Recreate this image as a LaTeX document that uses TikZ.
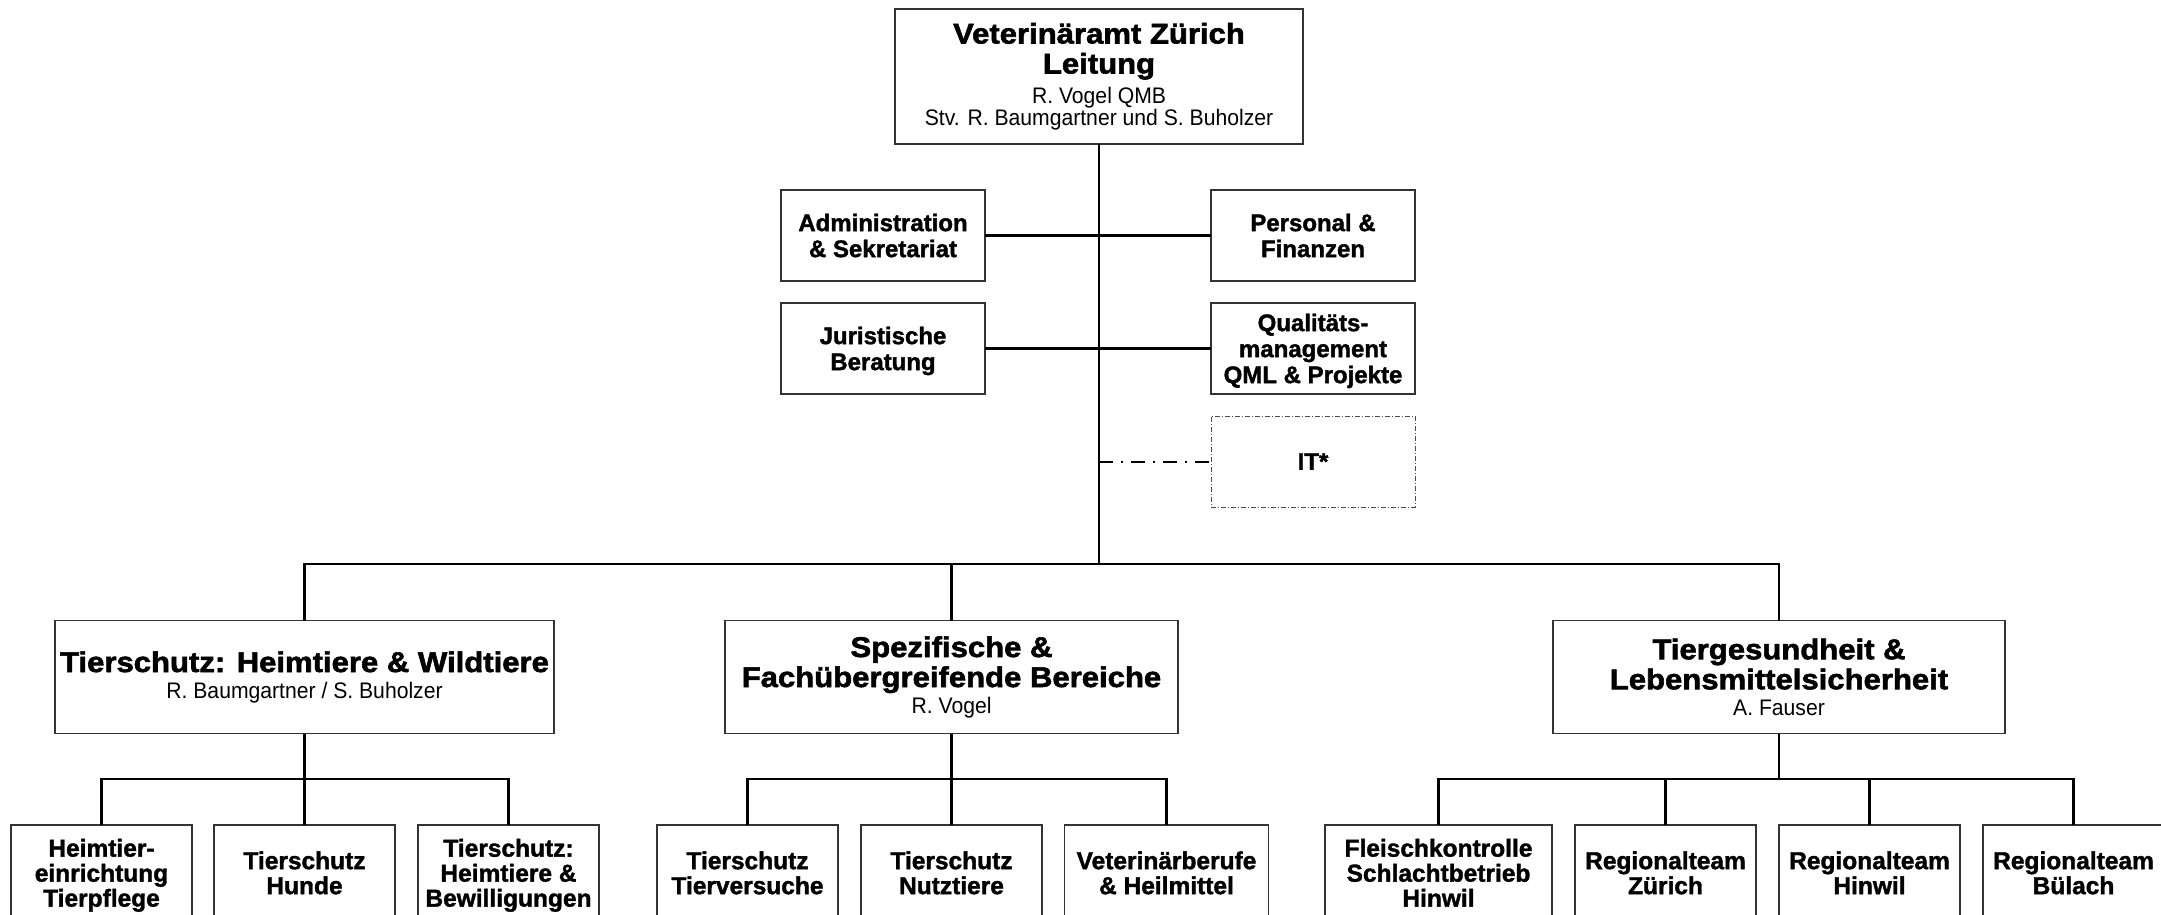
\documentclass[tikz,border=0pt]{standalone}
\usepackage{fontspec}
\setmainfont{Liberation Sans}
\newfontfamily\titelschrift{Liberation Sans}[FakeStretch=1.09,FakeBold=2]
\newfontfamily\einheitschrift{Liberation Sans}[FakeBold=1.5]
\newfontfamily\namenschrift{Liberation Sans}[FakeStretch=0.94]
\newcommand{\namen}{\namenschrift\mdseries\fontsize{22.5}{23}\selectfont}
\newcommand{\hoch}{\rule{0pt}{25pt}}

\tikzset{
	kasten/.style={draw=black!80, line width=1.3pt, fill=white, inner sep=0pt, outer sep=0pt, align=center},
	leitung/.style={kasten, minimum width=408pt, minimum height=135pt, font=\titelschrift\bfseries\fontsize{28.5}{30}\selectfont},
	bereich/.style={kasten, minimum height=113pt, font=\titelschrift\bfseries\fontsize{28.5}{30}\selectfont},
	stab/.style={kasten, minimum width=204pt, minimum height=91pt, font=\einheitschrift\bfseries\fontsize{24}{26}\selectfont},
	einheit/.style={kasten, minimum width=181pt, minimum height=103pt, font=\einheitschrift\bfseries\fontsize{24.5}{25}\selectfont},
	verbindung/.style={line width=2.2pt, black},
}

\begin{document}
\begin{tikzpicture}[x=1pt,y=-1pt]
	\def\busY{564};
	\def\subY{779};
	\def\eY{876.5};
\useasboundingbox (0,0) rectangle (2161,914);
\clip (0,0) rectangle (2161,914); % unten abgeschnitten

%Leitung
\node[leitung] (leit) at (1099,76.5) {Veterinäramt Zürich\\Leitung\\\namen R. Vogel QMB\\[-8pt]\namen Stv. R. Baumgartner und S. Buholzer};

%Stabsstellen
\node[stab] (admin) at (883,235.5) {\hoch Administration\\\& Sekretariat\strut};
\node[stab] (pers) at (1313,235.5) {\hoch Personal \&\\Finanzen\strut};
\node[stab] (jur) at (883,348.5) {\hoch Juristische\\Beratung\strut};
\node[stab] (qm) at (1313,348.5) {\hoch Qualitäts-\\management\\QML \& Projekte\strut};
\node[stab, draw=black!70, line width=1pt, dash pattern=on 5pt off 2pt on 1pt off 2pt] (it) at (1313,461.5) {IT*};

%Bereiche
\node[bereich, minimum width=499pt] (bA) at (304.5,677) {Tierschutz: Heimtiere \& Wildtiere\\[-4pt]\namen R. Baumgartner / S. Buholzer};
\node[bereich, minimum width=453pt] (bB) at (951.5,677) {Spezifische \&\\Fachübergreifende Bereiche\\[-4pt]\namen R. Vogel};
\node[bereich, minimum width=452pt] (bC) at (1779,677) {Tiergesundheit \&\\Lebensmittelsicherheit\\[-4pt]\namen A. Fauser};

%Einheiten
\node[einheit] (eA1) at (101.5,\eY) {Heimtier-\\einrichtung\\Tierpflege\strut};
\node[einheit] (eA2) at (304.5,\eY) {Tierschutz\\Hunde\strut};
\node[einheit] (eA3) at (508.5,\eY) {Tierschutz:\\Heimtiere \&\\Bewilligungen\strut};
\node[einheit] (eB1) at (747.5,\eY) {Tierschutz\\Tierversuche\strut};
\node[einheit] (eB2) at (951.5,\eY) {Tierschutz\\Nutztiere\strut};
\node[einheit, minimum width=204pt] (eB3) at (1166.5,\eY) {Veterinärberufe\\\& Heilmittel\strut};
\node[einheit, minimum width=227pt] (eC1) at (1438.5,\eY) {Fleischkontrolle\\Schlachtbetrieb\\Hinwil\strut};
\node[einheit] (eC2) at (1665.5,\eY) {Regionalteam\\Zürich\strut};
\node[einheit] (eC3) at (1869.5,\eY) {Regionalteam\\Hinwil\strut};
\node[einheit] (eC4) at (2073.5,\eY) {Regionalteam\\Bülach\strut};

%Linien oben
\draw[verbindung] (leit.south) -- (leit.south |- 0,\busY);
\draw[verbindung] (admin.east) -- (pers.west);
\draw[verbindung] (jur.east) -- (qm.west);
\draw[verbindung, line width=2pt, dash pattern=on 14pt off 8pt on 2pt off 8pt] (leit.south |- it.west) -- (it.west);

%Bus zu den Bereichen
\draw[verbindung] (bA.north) -- (bA.north |- 0,\busY) -- (bC.north |- 0,\busY) -- (bC.north);
\draw[verbindung] (bB.north) -- (bB.north |- 0,\busY);

%Bereich A
\draw[verbindung] (bA.south) -- (eA2.north);
\draw[verbindung] (eA1.north) -- (eA1.north |- 0,\subY) -- (eA3.north |- 0,\subY) -- (eA3.north);

%Bereich B
\draw[verbindung] (bB.south) -- (eB2.north);
\draw[verbindung] (eB1.north) -- (eB1.north |- 0,\subY) -- (eB3.north |- 0,\subY) -- (eB3.north);

%Bereich C
\draw[verbindung] (bC.south) -- (bC.south |- 0,\subY);
\draw[verbindung] (eC1.north) -- (eC1.north |- 0,\subY) -- (eC4.north |- 0,\subY) -- (eC4.north);
\draw[verbindung] (eC2.north) -- (eC2.north |- 0,\subY);
\draw[verbindung] (eC3.north) -- (eC3.north |- 0,\subY);

\end{tikzpicture}
\end{document}
